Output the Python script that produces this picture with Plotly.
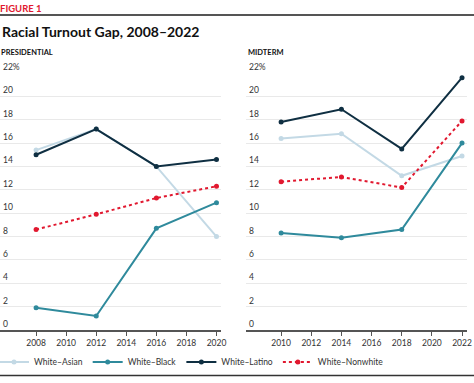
import plotly.graph_objects as go

pres_years = [2008, 2012, 2016, 2020]
mid_years = [2010, 2014, 2018, 2022]

series_names = ["White–Asian", "White–Black", "White–Latino", "White–Nonwhite"]
pres_values = {
    "White–Asian": [15.4, 17.2, 14.0, 8.0],
    "White–Black": [1.9, 1.2, 8.7, 10.9],
    "White–Latino": [15.0, 17.2, 14.0, 14.6],
    "White–Nonwhite": [8.6, 9.9, 11.3, 12.3],
}
mid_values = {
    "White–Asian": [16.4, 16.8, 13.2, 14.9],
    "White–Black": [8.3, 7.9, 8.6, 16.0],
    "White–Latino": [17.8, 18.9, 15.5, 21.6],
    "White–Nonwhite": [12.7, 13.1, 12.2, 17.9],
}
y_tickvals = [0, 2, 4, 6, 8, 10, 12, 14, 16, 18, 20, 22]
y_ticktext = ["0", "2", "4", "6", "8", "10", "12", "14", "16", "18", "20", "22%"]
pres_xticks = [2008, 2010, 2012, 2014, 2016, 2018, 2020]
mid_xticks = [2010, 2012, 2014, 2016, 2018, 2020, 2022]

colors = {
    "White–Asian": "#c3d9e5",
    "White–Black": "#2f8a9c",
    "White–Latino": "#0f2f42",
    "White–Nonwhite": "#e1182f",
}
dashes = {"White–Asian": "solid", "White–Black": "solid", "White–Latino": "solid", "White–Nonwhite": "dot"}

FONT = "Lato"
W, H = 474, 383
ML, MR, MT, MB = 0, 6, 73, 53
PW = W - ML - MR
PH = H - MT - MB


def px(x):
    return (x - ML) / PW


def py(y):
    return (H - MB - y) / PH


fig = go.Figure()
for name in series_names:
    fig.add_trace(go.Scatter(
        x=pres_years, y=pres_values[name], name=name, mode="lines+markers",
        line=dict(color=colors[name], width=2, dash=dashes[name]),
        marker=dict(size=5, color=colors[name]),
        xaxis="x", yaxis="y", legendgroup=name, showlegend=True))
for name in series_names:
    fig.add_trace(go.Scatter(
        x=mid_years, y=mid_values[name], name=name, mode="lines+markers",
        line=dict(color=colors[name], width=2, dash=dashes[name]),
        marker=dict(size=5, color=colors[name]),
        xaxis="x2", yaxis="y2", legendgroup=name, showlegend=False))

xcommon = dict(
    showgrid=False, zeroline=False, showline=True, linecolor="#555555", linewidth=1.5,
    ticks="outside", ticklen=4, tickcolor="#555555", tickwidth=1,
    tickfont=dict(family=FONT, size=8.5, color="#333333"),
    automargin=False,
)
ycommon = dict(
    range=[0, 22], tickvals=y_tickvals, ticktext=y_ticktext,
    showgrid=True, gridcolor="#e9e9e9", gridwidth=1, zeroline=False, showline=False,
    ticks="", ticklabelposition="inside top", ticklabeloverflow="allow",
    tickfont=dict(family=FONT, size=8.5, color="#333333"),
    automargin=False,
)

fig.update_layout(
    width=W, height=H,
    margin=dict(l=ML, r=MR, t=MT, b=MB, autoexpand=False),
    paper_bgcolor="white", plot_bgcolor="white",
    font=dict(family=FONT, color="#222222"),
    xaxis=dict(domain=[px(0), px(221)], range=[2005.6, 2020.3], tickvals=pres_xticks, anchor="y", **xcommon),
    xaxis2=dict(domain=[px(246), px(467)], range=[2007.67, 2022.33], tickvals=mid_xticks, anchor="y2", **xcommon),
    yaxis=dict(domain=[0, 1], anchor="x", **ycommon),
    yaxis2=dict(domain=[0, 1], anchor="x2", **ycommon),
    legend=dict(orientation="h", x=px(-6), xanchor="left", y=py(362), yanchor="middle",
                font=dict(family=FONT, size=8.5, color="#333333"),
                itemwidth=30, tracegroupgap=0, bgcolor="rgba(0,0,0,0)"),
    showlegend=True,
)

annotations = [
    dict(text="<b>FIGURE 1</b>", x=px(-2), y=py(8), xanchor="left", yanchor="middle",
         font=dict(family=FONT, size=9.5, color="#e1182f")),
    dict(text="<b>Racial Turnout Gap, 2008–2022</b>", x=px(0), y=py(32), xanchor="left", yanchor="middle",
         font=dict(family=FONT, size=14, color="#111111")),
    dict(text="<b>PRESIDENTIAL</b>", x=px(-1), y=py(52), xanchor="left", yanchor="middle",
         font=dict(family=FONT, size=7.5, color="#111111")),
    dict(text="<b>MIDTERM</b>", x=px(246), y=py(52), xanchor="left", yanchor="middle",
         font=dict(family=FONT, size=7.5, color="#111111")),
]
for a in annotations:
    a.update(xref="paper", yref="paper", showarrow=False)
fig.update_layout(annotations=annotations)

fig.update_layout(shapes=[
    dict(type="line", xref="paper", yref="paper", x0=px(0), x1=px(W), y0=py(15), y1=py(15),
         line=dict(color="#555555", width=2)),
    dict(type="line", xref="paper", yref="paper", x0=px(0), x1=px(W), y0=py(375.5), y1=py(375.5),
         line=dict(color="#333333", width=1.5)),
])

fig.write_html("out.html", config={"displayModeBar": False},
               post_script="document.body.style.margin='0';document.body.style.overflow='hidden';")
